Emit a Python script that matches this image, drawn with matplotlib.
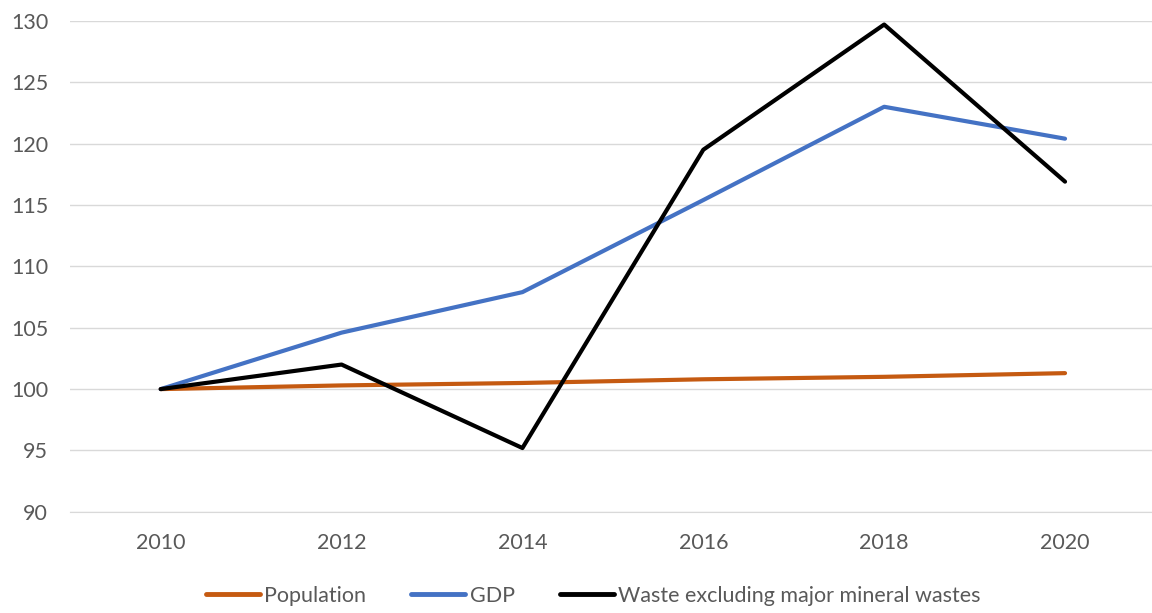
import matplotlib
matplotlib.use("Agg")
import matplotlib.pyplot as plt

years = ["2010", "2012", "2014", "2016", "2018", "2020"]
population = [100.0, 100.3, 100.5, 100.8, 101.0, 101.3]
gdp = [100.0, 104.6, 107.9, 115.4, 123.0, 120.4]
waste = [100.0, 102.0, 95.2, 119.5, 129.7, 116.9]
yticks = [90, 95, 100, 105, 110, 115, 120, 125, 130]

plt.rcParams['font.family'] = ['Lato', 'DejaVu Sans']

fig = plt.figure(figsize=(11.52, 6.13), dpi=100)
ax = fig.add_axes([0.061, 0.165, 0.942, 0.801])
x = list(range(len(years)))
ax.plot(x, population, color="#C55A11", lw=3, label="Population", solid_capstyle="round")
ax.plot(x, gdp, color="#4472C4", lw=3, label="GDP", solid_capstyle="round")
ax.plot(x, waste, color="#000000", lw=3, label="Waste excluding major mineral wastes", solid_capstyle="round")

ax.set_xlim(-0.5, 5.5)
ax.set_ylim(90, 130)
ax.set_yticks(yticks)
ax.set_xticks(x)
ax.set_xticklabels(years)
ax.grid(axis="y", color="#d9d9d9", lw=1)
ax.set_axisbelow(True)
for s in ["top", "right", "left"]:
    ax.spines[s].set_visible(False)
ax.spines["bottom"].set_color("#d9d9d9")
ax.tick_params(axis="both", length=0, labelsize=15.5, labelcolor="#595959")
ax.tick_params(axis="y", pad=16)
ax.tick_params(axis="x", pad=15)

leg = fig.legend(loc="center", bbox_to_anchor=(0.515, 0.028), ncol=3, frameon=False,
                 fontsize=15.5, handlelength=2.5, columnspacing=2.1, handletextpad=0.2)
for t in leg.get_texts():
    t.set_color("#595959")
for h in leg.get_lines():
    h.set_linewidth(3.5)

fig.savefig("out.png", dpi=100)
